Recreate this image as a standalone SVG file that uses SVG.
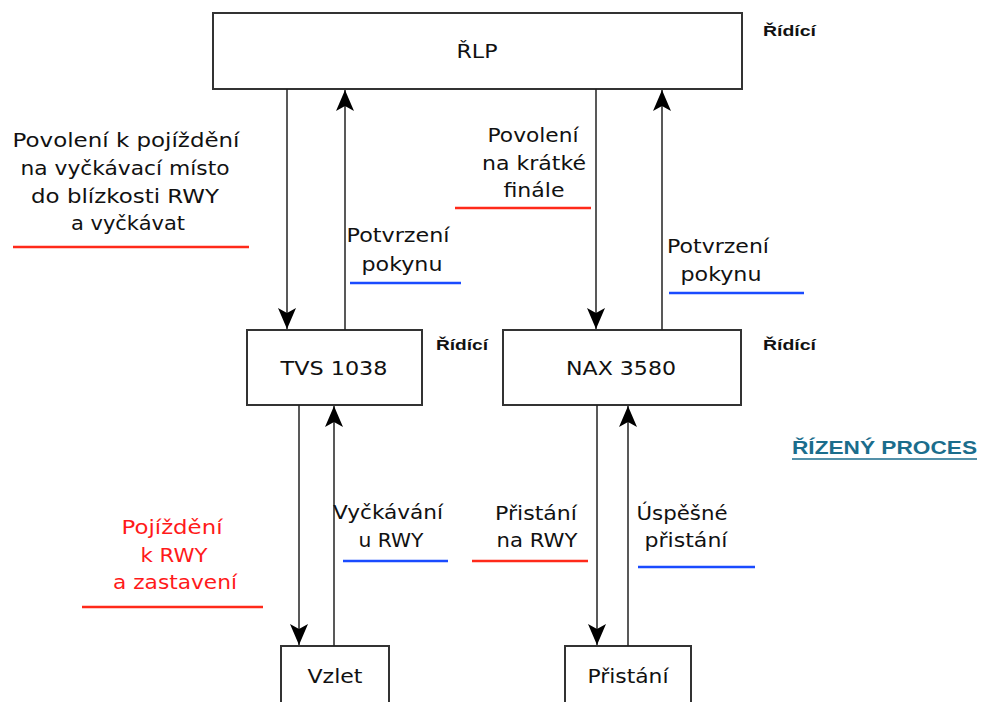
<svg xmlns="http://www.w3.org/2000/svg" width="981" height="702" viewBox="0 0 981 702">
  <style>
    .box { fill: #ffffff; stroke: #333333; stroke-width: 2; }
    .t { font-family: "DejaVu Sans", "Noto Sans", sans-serif; font-size: 19px; fill: #111111; text-anchor: middle; }
    .tr { fill: #ff1a1a; }
    .ctl { font-family: "Liberation Sans", Arial, sans-serif; font-size: 15px; font-weight: bold; fill: #111111; }
    .proc { font-family: "Liberation Sans", Arial, sans-serif; font-size: 18px; font-weight: bold; fill: #1b6d8c; }
    .edge { stroke: #222222; stroke-width: 1.5; fill: none; marker-end: url(#arrow); }
    .ul-red { stroke: #ff2a1a; stroke-width: 2.5; }
    .ul-blue { stroke: #1a4bff; stroke-width: 2.5; }
  </style>
  <defs>
    <marker id="arrow" markerUnits="userSpaceOnUse" markerWidth="24" markerHeight="22" viewBox="-22 -10 24 20" refX="0" refY="0" orient="auto">
      <path d="M0,0 L-21,-9 L-16,0 L-21,9 Z" fill="#000000"/>
    </marker>
  </defs>
  <rect width="981" height="702" fill="#ffffff"/>

  <!-- controller / controlled process nodes -->
  <g id="rlp">
    <rect class="box" x="213" y="13" width="529" height="76"/>
    <text class="t" x="477" y="58" textLength="41" lengthAdjust="spacingAndGlyphs">ŘLP</text>
    <text class="ctl" x="763" y="36" textLength="53" lengthAdjust="spacingAndGlyphs">Řídící</text>
  </g>
  <g id="tvs1038">
    <rect class="box" x="247" y="330" width="175" height="75"/>
    <text class="t" x="334" y="375" textLength="107" lengthAdjust="spacingAndGlyphs">TVS 1038</text>
    <text class="ctl" x="436" y="350" textLength="52" lengthAdjust="spacingAndGlyphs">Řídící</text>
  </g>
  <g id="nax3580">
    <rect class="box" x="503" y="330" width="238" height="75"/>
    <text class="t" x="621" y="375" textLength="110" lengthAdjust="spacingAndGlyphs">NAX 3580</text>
    <text class="ctl" x="763" y="350" textLength="53" lengthAdjust="spacingAndGlyphs">Řídící</text>
  </g>
  <g id="vzlet">
    <rect class="box" x="281" y="646" width="108" height="70"/>
    <text class="t" x="335" y="683" textLength="55" lengthAdjust="spacingAndGlyphs">Vzlet</text>
  </g>
  <g id="pristani">
    <rect class="box" x="565" y="646" width="126" height="70"/>
    <text class="t" x="628" y="683" textLength="81" lengthAdjust="spacingAndGlyphs">Přistání</text>
  </g>
  <g id="rizeny-proces">
    <text class="proc" x="792" y="454" textLength="185" lengthAdjust="spacingAndGlyphs">ŘÍZENÝ PROCES</text>
    <line x1="792" y1="459" x2="977" y2="459" stroke="#1b6d8c" stroke-width="1.5"/>
  </g>

  <!-- control actions and feedback -->
  <g id="connectors">
    <line class="edge" x1="287" y1="89" x2="287" y2="329"/>
    <line class="edge" x1="345" y1="330" x2="345" y2="90"/>
    <line class="edge" x1="596" y1="89" x2="596" y2="329"/>
    <line class="edge" x1="662" y1="330" x2="662" y2="90"/>
    <line class="edge" x1="299" y1="405" x2="299" y2="645"/>
    <line class="edge" x1="334" y1="646" x2="334" y2="406"/>
    <line class="edge" x1="597" y1="405" x2="597" y2="645"/>
    <line class="edge" x1="628" y1="646" x2="628" y2="406"/>
  </g>

  <!-- connector labels -->
  <g id="label-povoleni-pojizdeni">
    <text class="t" x="126" y="147" textLength="227" lengthAdjust="spacingAndGlyphs">Povolení k pojíždění</text>
    <text class="t" x="125" y="175" textLength="209" lengthAdjust="spacingAndGlyphs">na vyčkávací místo</text>
    <text class="t" x="125" y="202.5" textLength="188" lengthAdjust="spacingAndGlyphs">do blízkosti RWY</text>
    <text class="t" x="128" y="230" textLength="114" lengthAdjust="spacingAndGlyphs">a vyčkávat</text>
    <line class="ul-red" x1="13" y1="247" x2="249" y2="247"/>
  </g>
  <g id="label-potvrzeni-1">
    <text class="t" x="398" y="242" textLength="103" lengthAdjust="spacingAndGlyphs">Potvrzení</text>
    <text class="t" x="402" y="270.5" textLength="81" lengthAdjust="spacingAndGlyphs">pokynu</text>
    <line class="ul-blue" x1="350" y1="283" x2="461" y2="283"/>
  </g>
  <g id="label-povoleni-finale">
    <text class="t" x="533" y="142" textLength="91" lengthAdjust="spacingAndGlyphs">Povolení</text>
    <text class="t" x="534" y="170" textLength="104" lengthAdjust="spacingAndGlyphs">na krátké</text>
    <text class="t" x="534" y="197" textLength="61" lengthAdjust="spacingAndGlyphs">finále</text>
    <line class="ul-red" x1="455" y1="208" x2="591" y2="208"/>
  </g>
  <g id="label-potvrzeni-2">
    <text class="t" x="718" y="252.5" textLength="102" lengthAdjust="spacingAndGlyphs">Potvrzení</text>
    <text class="t" x="721" y="280.5" textLength="81" lengthAdjust="spacingAndGlyphs">pokynu</text>
    <line class="ul-blue" x1="669" y1="293" x2="804" y2="293"/>
  </g>
  <g id="label-pojizdeni">
    <text class="t tr" x="172" y="534" textLength="101" lengthAdjust="spacingAndGlyphs">Pojíždění</text>
    <text class="t tr" x="174" y="562" textLength="67" lengthAdjust="spacingAndGlyphs">k RWY</text>
    <text class="t tr" x="175" y="589" textLength="124" lengthAdjust="spacingAndGlyphs">a zastavení</text>
    <line class="ul-red" x1="82" y1="607" x2="263" y2="607"/>
  </g>
  <g id="label-vyckavani">
    <text class="t" x="388" y="519" textLength="110" lengthAdjust="spacingAndGlyphs">Vyčkávání</text>
    <text class="t" x="391" y="547" textLength="65" lengthAdjust="spacingAndGlyphs">u RWY</text>
    <line class="ul-blue" x1="343" y1="561" x2="448" y2="561"/>
  </g>
  <g id="label-pristani-rwy">
    <text class="t" x="536" y="520" textLength="82" lengthAdjust="spacingAndGlyphs">Přistání</text>
    <text class="t" x="537" y="547" textLength="81" lengthAdjust="spacingAndGlyphs">na RWY</text>
    <line class="ul-red" x1="472" y1="561" x2="588" y2="561"/>
  </g>
  <g id="label-uspesne">
    <text class="t" x="682" y="520" textLength="91" lengthAdjust="spacingAndGlyphs">Úspěšné</text>
    <text class="t" x="686" y="547" textLength="83" lengthAdjust="spacingAndGlyphs">přistání</text>
    <line class="ul-blue" x1="638" y1="567" x2="755" y2="567"/>
  </g>
</svg>
